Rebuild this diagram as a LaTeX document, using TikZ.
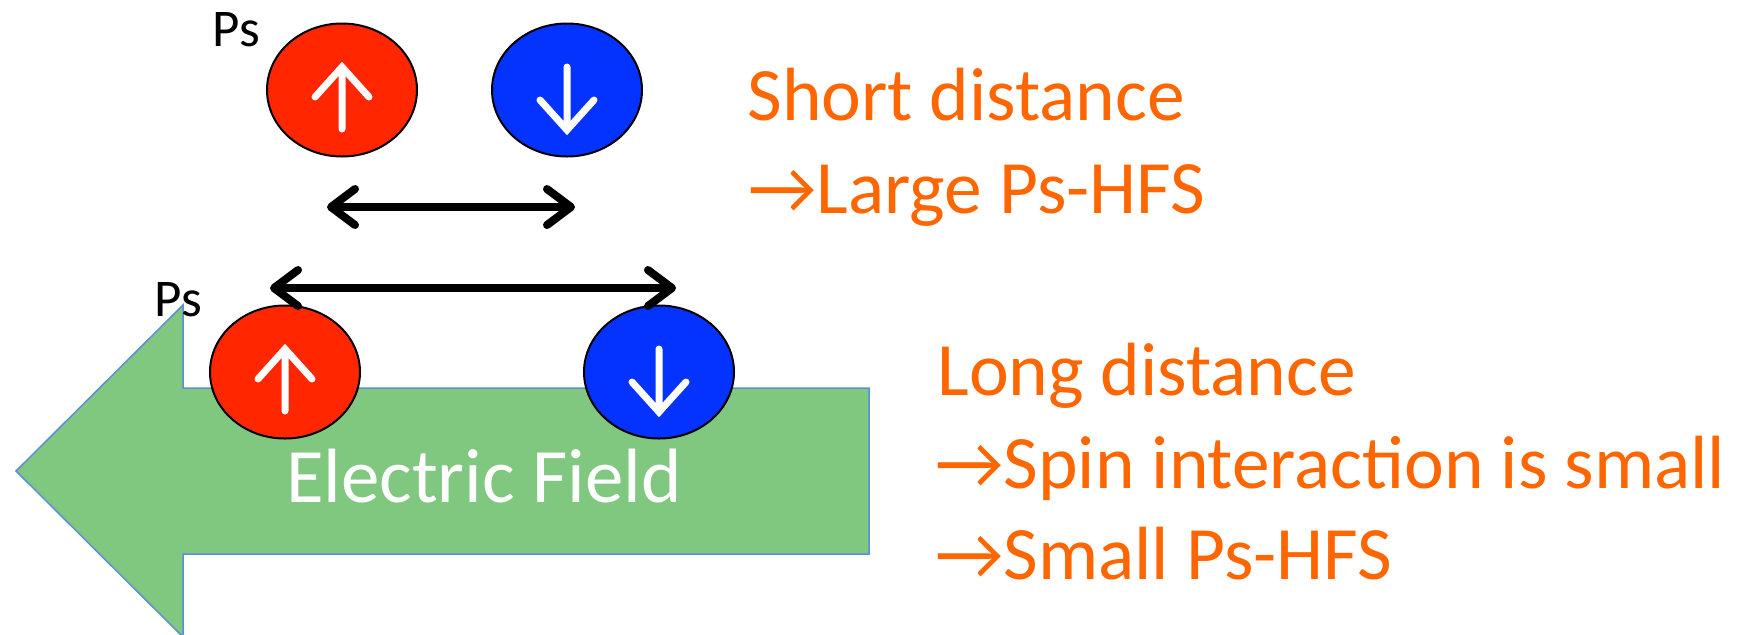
\documentclass[tikz,border=0pt]{standalone}
\usepackage{fontspec}
\setmainfont{Carlito}
\usetikzlibrary{arrows.meta}
\usetikzlibrary{shapes.geometric}
\usetikzlibrary{positioning}
\definecolor{SpinRed}{HTML}{FF2600}
\definecolor{SpinBlue}{HTML}{0433FF}
\definecolor{FieldGreen}{HTML}{80C780}
\definecolor{FieldEdge}{HTML}{5B8FD6}
\definecolor{NoteOrange}{HTML}{FF6600}
\tikzset{
  particle/.style={ellipse,draw=black,line width=1pt,minimum width=75pt,
    minimum height=66.5pt,inner sep=0pt},
  spinline/.style={white,line width=3.5pt,line cap=round,line join=miter},
  gapline/.style={line width=4pt,line cap=round,
    {Straight Barb[length=12pt,width=18pt,round]}-{Straight Barb[length=12pt,width=18pt,round]}},
  note/.style={text=NoteOrange,font=\fontsize{37.7}{45}\selectfont,anchor=base west,inner sep=0pt},
  pslabel/.style={font=\fontsize{26.5}{32}\selectfont,anchor=base west,inner sep=0pt},
}
\newcommand{\spinup}[1]{%
  \draw[spinline,shift={(#1.center)}] (0,-39) -- (0,23) (-27,-7) -- (0,23) -- (27,-7);}
\newcommand{\spindown}[1]{%
  \draw[spinline,shift={(#1.center)}] (0,23) -- (0,-40) (-27,-10) -- (0,-40) -- (27,-10);}
\begin{document}
\begin{tikzpicture}[x=0.5pt,y=0.5pt]
  \useasboundingbox (0,0) rectangle (1751,-634);
  \clip (0,0) rectangle (1751,-634);

  % field arrow
  \draw[fill=FieldGreen,draw=FieldEdge,line width=0.75pt]
    (869,-388) -- (183,-388) -- (183,-305) -- (16,-471) -- (183,-637)
    -- (183,-554) -- (869,-554) -- cycle;
  \node[anchor=base,text=white,font=\fontsize{38.5}{46}\selectfont,inner sep=0pt]
    (FieldText) at (484,-502) {Electric Field};

  % short distance Ps
  \node[particle,fill=SpinRed]  (RedTop)  at (342,-90) {};
  \node[particle,fill=SpinBlue] (BlueTop) at (567,-90) {};
  \spinup{RedTop}
  \spindown{BlueTop}
  \node[pslabel] (PsTop) at (212,-46) {Ps};
  \coordinate (ShortL) at (327,-207);
  \coordinate (ShortR) at (575,-207);
  \draw[gapline] (ShortL) -- (ShortR);

  % long distance Ps
  \node[particle,fill=SpinRed]  (RedBot)  at (285,-372) {};
  \node[particle,fill=SpinBlue] (BlueBot) at (659,-372) {};
  \spinup{RedBot}
  \spindown{BlueBot}
  \node[pslabel] (PsBot) at (154,-316) {Ps};
  \coordinate (LongL) at (270,-288);
  \coordinate (LongR) at (676,-288);
  \draw[gapline] (LongL) -- (LongR);

  % notes
  \node[note] (ShortA) at (747,-120) {Short distance};
  \node[note] (ShortB) at (748,-213) {→Large Ps-HFS};
  \node[note] (LongA) at (937,-395) {Long distance};
  \node[note] (LongB) at (935,-488) {→Spin interaction is small};
  \node[note] (LongC) at (935,-579) {→Small Ps-HFS};
\end{tikzpicture}
\end{document}
